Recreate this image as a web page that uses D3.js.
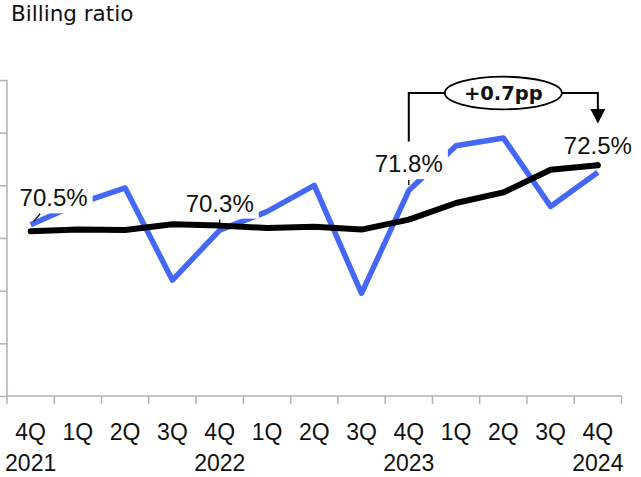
<!DOCTYPE html>
<html>
<head>
<meta charset="utf-8">
<script src="https://cdn.jsdelivr.net/npm/d3@7"></script>
<style>
  html, body { margin: 0; padding: 0; background: #fff; }
  svg { display: block; }
</style>
</head>
<body>
<script>
// Quarterly billing ratio (%) with its smoothed trend
const quarters = ["4Q", "1Q", "2Q", "3Q", "4Q", "1Q", "2Q", "3Q", "4Q", "1Q", "2Q", "3Q", "4Q"];
const years = ["2021", "", "", "", "2022", "", "", "", "2023", "", "", "", "2024"];
const billingRatio = [70.5, 71.3, 71.9, 68.4, 70.3, 71.0, 72.0, 67.9, 71.8, 73.5, 73.8, 71.2, 72.5];
const trendRatio = [70.26, 70.32, 70.30, 70.52, 70.47, 70.38, 70.43, 70.32, 70.70, 71.33, 71.73, 72.59, 72.76];
const labelledIdx = [0, 4, 8, 12];
const yTicks = [64, 66, 68, 70, 72, 74, 76];
const changeText = "+0.7pp";

const W = 641, H = 477;
const svg = d3.select("body").append("svg").attr("width", W).attr("height", H);

const keys = quarters.map((q, i) => i);
const x = d3.scaleBand().domain(keys).range([7, 621.5]);
const cx = i => x(i) + x.bandwidth() / 2;
const y = d3.scaleLinear().domain([64, 76]).range([396, 80]);

const axisColor = "#b1b1b9";

// Title
svg.append("text")
  .attr("x", 11).attr("y", 21)
  .attr("font-family", "DejaVu Sans")
  .attr("font-size", 21.5)
  .attr("fill", "#111")
  .text("Billing ratio");

// Value axis: line with outward ticks, no labels
const yAxis = svg.append("g").attr("transform", "translate(7,0)")
  .call(d3.axisLeft(y).tickValues(yTicks).tickSize(7).tickFormat(""));
yAxis.selectAll("path, line").attr("stroke", axisColor).attr("stroke-width", 1.5);
yAxis.select(".domain").attr("d", `M0,${y(76)}V${y(64)}`);

// Category axis: ticks on category boundaries
const xAxisG = svg.append("g");
xAxisG.append("line")
  .attr("x1", x.range()[0]).attr("x2", x.range()[1])
  .attr("y1", y(64)).attr("y2", y(64))
  .attr("stroke", axisColor).attr("stroke-width", 1.5);
const bounds = keys.map(i => x(i)).concat([x.range()[1]]);
xAxisG.selectAll("line.tick").data(bounds).join("line")
  .attr("class", "tick")
  .attr("x1", d => d).attr("x2", d => d)
  .attr("y1", y(64)).attr("y2", y(64) + 8)
  .attr("stroke", axisColor).attr("stroke-width", 1.5);

const labelFont = "Liberation Sans";
svg.append("g").selectAll("text").data(keys).join("text")
  .attr("x", i => cx(i)).attr("y", 439.5)
  .attr("text-anchor", "middle")
  .attr("font-family", labelFont).attr("font-size", 23)
  .attr("fill", "#111")
  .text(i => quarters[i]);
svg.append("g").selectAll("text").data(keys.filter(i => years[i])).join("text")
  .attr("x", i => cx(i)).attr("y", 470.5)
  .attr("text-anchor", "middle")
  .attr("font-family", labelFont).attr("font-size", 23)
  .attr("fill", "#111")
  .text(i => years[i]);

// Lines
const line = d3.line().x((d, i) => cx(i)).y(d => y(d));
svg.append("path").datum(billingRatio)
  .attr("d", line)
  .attr("fill", "none").attr("stroke", "#4468f5")
  .attr("stroke-width", 5.5).attr("stroke-linejoin", "round");
svg.append("path").datum(trendRatio)
  .attr("d", line)
  .attr("fill", "none").attr("stroke", "#000")
  .attr("stroke-width", 6).attr("stroke-linejoin", "round").attr("stroke-linecap", "round");

// Value labels on white boxes with short leaders
const fmt = v => v.toFixed(1) + "%";
const labelG = svg.append("g");
labelledIdx.forEach(i => {
  const px = cx(i), py = y(billingRatio[i]);
  const dx = i === 0 ? 23 : 0;
  const tx = px + dx, ty = py - 18.5;
  const t = labelG.append("text")
    .attr("x", tx).attr("y", ty)
    .attr("text-anchor", "middle")
    .attr("font-family", labelFont).attr("font-size", 24)
    .attr("fill", "#111")
    .text(fmt(billingRatio[i]));
  const bb = t.node().getBBox();
  labelG.insert("rect", "text")
    .attr("x", bb.x - 5).attr("y", bb.y - 1)
    .attr("width", bb.width + 10).attr("height", bb.height + 3)
    .attr("fill", "#fff");
  if (i === 0) {
    labelG.append("line")
      .attr("x1", px + 9.5).attr("y1", py - 11)
      .attr("x2", px + 3).attr("y2", py - 3.5)
      .attr("stroke", "#000").attr("stroke-width", 1.3);
  } else {
    labelG.append("line")
      .attr("x1", px).attr("y1", ty + 8)
      .attr("x2", px).attr("y2", ty + 13)
      .attr("stroke", "#000").attr("stroke-width", 1.3);
  }
});

// Change callout between 4Q 2023 and 4Q 2024
const xa = cx(8), xb = cx(12);
const yTop = 93;
const yStart = y(billingRatio[8]) - 49;
const rx = 58.5, ry = 16.3, ex = (xa + xb) / 2;
const call = svg.append("g").attr("stroke", "#000").attr("stroke-width", 2).attr("fill", "none");
call.append("path").attr("d", `M${xa},${yStart}V${yTop}H${ex - rx}`);
call.append("path").attr("d", `M${ex + rx},${yTop}H${xb}V${110}`);
svg.append("path")
  .attr("d", `M${xb - 7.5},109L${xb + 7.5},109L${xb},123.5Z`)
  .attr("fill", "#000");
call.append("ellipse")
  .attr("cx", ex).attr("cy", yTop).attr("rx", rx).attr("ry", ry)
  .attr("fill", "#fff").attr("stroke-width", 1.8);
svg.append("text")
  .attr("x", ex).attr("y", 100)
  .attr("text-anchor", "middle")
  .attr("font-family", "DejaVu Sans").attr("font-weight", "bold").attr("font-size", 19.5)
  .attr("fill", "#111")
  .text(changeText);
</script>
</body>
</html>
